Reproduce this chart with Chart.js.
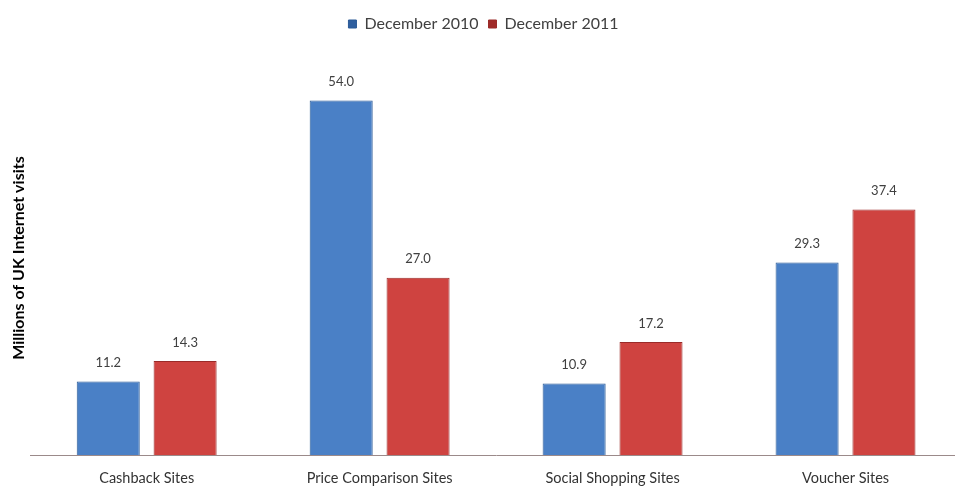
<!DOCTYPE html>
<html lang="en">

<head>
    <meta charset="UTF-8">
    <title>UK Internet visits</title>
    <script src="https://cdn.jsdelivr.net/npm/chart.js"></script>
    <style>
        html, body { margin: 0; padding: 0; overflow: hidden; background: #fff; }
        #wrap { width: 962px; height: 491px; }
    </style>
</head>

<body>
    <div id="wrap"><canvas id="visitsChart" width="962" height="491"></canvas></div>

    <script>
        const categories = ['Cashback Sites', 'Price Comparison Sites', 'Social Shopping Sites', 'Voucher Sites'];
        const dec2010 = [11.2, 54.0, 10.9, 29.3];
        const dec2011 = [14.3, 27.0, 17.2, 37.4];
        const seriesNames = ['December 2010', 'December 2011'];

        const FONT = 'Lato, "Open Sans", sans-serif';

        function barGradient(ctx, dark, light) {
            const chart = ctx.chart;
            const el = ctx.element;
            if (!chart.chartArea || !el || el.width == null) return light;
            const half = el.width / 2;
            const g = chart.ctx.createLinearGradient(el.x - half, 0, el.x + half, 0);
            g.addColorStop(0, dark);
            g.addColorStop(0.12, light);
            g.addColorStop(0.5, light);
            g.addColorStop(0.88, light);
            g.addColorStop(1, dark);
            return g;
        }

        // labels above each bar
        const valueLabels = {
            id: 'valueLabels',
            afterDatasetsDraw(chart) {
                const c = chart.ctx;
                c.save();
                c.font = '13px ' + FONT;
                c.fillStyle = '#404040';
                c.textAlign = 'center';
                c.textBaseline = 'bottom';
                chart.data.datasets.forEach((ds, i) => {
                    chart.getDatasetMeta(i).data.forEach((bar, j) => {
                        c.fillText(ds.data[j].toFixed(1), bar.x, bar.y - 12);
                    });
                });
                c.restore();
            }
        };

        // extra room under the legend
        const legendSpacer = {
            id: 'legendSpacer',
            beforeInit(chart) {
                const fit = chart.legend.fit;
                chart.legend.fit = function () {
                    fit.bind(chart.legend)();
                    this.height += 19;
                };
            }
        };

        const ctx = document.getElementById('visitsChart').getContext('2d');
        new Chart(ctx, {
            type: 'bar',
            data: {
                labels: categories,
                datasets: [{
                    label: seriesNames[0],
                    data: dec2010,
                    backgroundColor: (c) => barGradient(c, '#2f5f9f', '#4a80c6'),
                    borderColor: '#2b5a96',
                    borderWidth: 1,
                    barPercentage: 0.82,
                    categoryPercentage: 0.66
                }, {
                    label: seriesNames[1],
                    data: dec2011,
                    backgroundColor: (c) => barGradient(c, '#a02a28', '#cf4340'),
                    borderColor: '#9a2b29',
                    borderWidth: 1,
                    barPercentage: 0.82,
                    categoryPercentage: 0.66
                }]
            },
            options: {
                responsive: false,
                animation: false,
                layout: { padding: { left: 5, right: 0, top: 6, bottom: 0 } },
                scales: {
                    x: {
                        grid: { display: false },
                        border: { color: '#9b8a8a', width: 1 },
                        ticks: {
                            color: '#333',
                            padding: 7,
                            font: { size: 14.5, family: FONT }
                        },
                        afterFit(scale) { scale.height = 36; }
                    },
                    y: {
                        min: 0,
                        max: 60,
                        grid: { display: false, drawTicks: false },
                        border: { display: false },
                        ticks: { display: false },
                        title: {
                            display: true,
                            text: 'Millions of UK Internet visits',
                            color: '#000',
                            padding: { top: 4, bottom: 2 },
                            font: { size: 16, weight: 'bold', family: FONT }
                        }
                    }
                },
                plugins: {
                    legend: {
                        position: 'top',
                        labels: {
                            boxWidth: 8,
                            boxHeight: 8,
                            padding: 10,
                            color: '#404040',
                            font: { size: 16, family: FONT }
                        }
                    },
                    tooltip: { enabled: false }
                }
            },
            plugins: [valueLabels, legendSpacer]
        });
    </script>
</body>

</html>
